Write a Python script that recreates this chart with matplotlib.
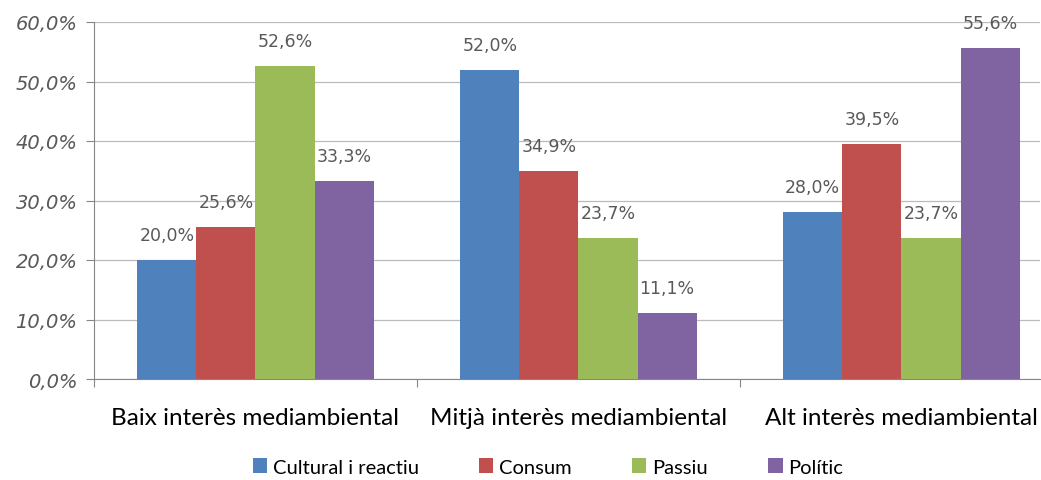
import numpy as np
import matplotlib.pyplot as plt

categories = ['Baix interès mediambiental', 'Mitjà interès mediambiental', 'Alt interès mediambiental']
series = ['Cultural i reactiu', 'Consum', 'Passiu', 'Polític']
cultural = [20.0, 52.0, 28.0]
consum = [25.6, 34.9, 39.5]
passiu = [52.6, 23.7, 23.7]
politic = [33.3, 11.1, 55.6]
colors = ['#4F81BD', '#C0504D', '#9BBB59', '#8064A2']

plt.rcParams['font.family'] = ['Lato', 'DejaVu Sans']

fig = plt.figure(figsize=(10.41, 4.81), dpi=100)
ax = fig.add_axes([94 / 1041, 1 - 380 / 481, 946 / 1041, 357 / 481])

x = np.arange(len(categories))
w = 0.183
values = [cultural, consum, passiu, politic]
for i, (name, vals, c) in enumerate(zip(series, values, colors)):
    pos = x + (i - 1.5) * w
    ax.bar(pos, vals, width=w, color=c, label=name, zorder=3)
    for p, v in zip(pos, vals):
        ax.text(p, v + 4.2, f'{v:.1f}%'.replace('.', ','), ha='center', va='center',
                fontsize=12.5, color='#595959', family='DejaVu Sans')

ax.set_yticks(np.arange(0, 61, 10))
ax.set_yticklabels([f'{t:.1f}%'.replace('.', ',') for t in np.arange(0, 61, 10)],
                   fontsize=14, style='italic', color='#595959', family='DejaVu Sans')
ax.set_xticks([-0.5, 0.5, 1.5, 2.5], minor=False)
ax.set_xticklabels([])
ax.set_xticks(x, minor=True)
ax.set_xticklabels(categories, minor=True, fontsize=17.5, color='#000000')
ax.set_ylim(0, 60)
ax.set_xlim(-0.5, 2.429)
ax.tick_params(axis='x', which='major', length=6, color='#868686')
ax.tick_params(axis='x', which='minor', length=0, pad=20)
ax.tick_params(axis='y', length=6, color='#868686', pad=6)
ax.grid(axis='y', color='#BBBBBB', linewidth=0.9, zorder=0)
for s in ['top', 'right']:
    ax.spines[s].set_visible(False)
for s in ['left', 'bottom']:
    ax.spines[s].set_color('#868686')

fig.legend(loc='center', bbox_to_anchor=(548 / 1041, 1 - 468 / 481), ncol=4, frameon=False,
           fontsize=14.5, handlelength=0.7, handleheight=0.7, handletextpad=0.3, columnspacing=3.0)

plt.savefig('out.png', dpi=100)
